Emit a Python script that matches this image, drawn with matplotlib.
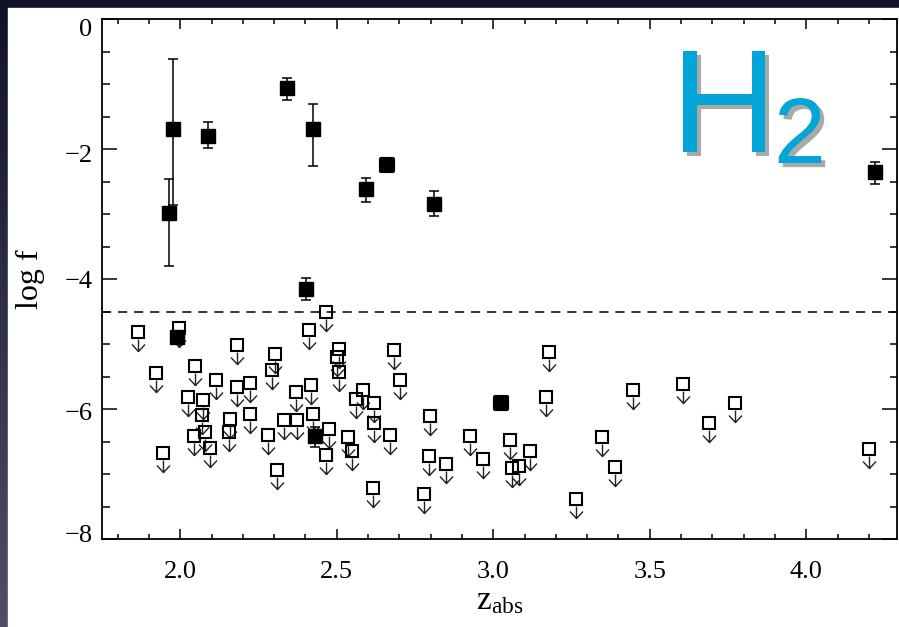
import numpy as np
import matplotlib
matplotlib.use('Agg')
import matplotlib.pyplot as plt
import matplotlib.patheffects as pe
import matplotlib.transforms as mtransforms
from matplotlib.path import Path
from matplotlib.markers import MarkerStyle
from matplotlib.patches import Rectangle

plt.rcParams['font.family'] = 'serif'
plt.rcParams['font.serif'] = ['Liberation Serif', 'DejaVu Serif']
plt.rcParams['mathtext.default'] = 'regular'

# H2 detections (filled squares with error bars)
det_z = [1.963, 1.976, 2.088, 2.340, 2.402, 2.425, 2.595, 2.811, 4.220, 1.991, 2.432]
det_logf = [-2.98, -1.69, -1.80, -1.06, -4.16, -1.69, -2.62, -2.84, -2.36, -4.89, -6.42]
det_err_lo = [0.82, 1.17, 0.18, 0.18, 0.16, 0.57, 0.20, 0.19, 0.18, 0.05, 0.16]
det_err_hi = [0.52, 1.08, 0.21, 0.16, 0.18, 0.38, 0.17, 0.19, 0.16, 0.05, 0.15]

# detections drawn as rounded blobs
blob_z = [2.659, 3.025]
blob_logf = [-2.25, -5.91]

# upper limits (open squares with arrows)
lim_z = [1.866, 1.996, 1.923, 1.945, 2.046, 2.026, 2.072, 2.068, 2.043, 2.078,
         2.094, 2.113, 2.180, 2.182, 2.158, 2.155, 2.224, 2.224, 2.302, 2.294,
         2.280, 2.310, 2.411, 2.370, 2.418, 2.331, 2.373, 2.423, 2.467, 2.476,
         2.465, 2.506, 2.501, 2.506, 2.584, 2.562, 2.618, 2.620, 2.536, 2.550,
         2.616, 2.682, 2.669, 2.701, 2.799, 2.796, 2.850, 2.778, 2.925, 2.966,
         3.055, 3.117, 3.081, 3.061, 3.177, 3.169, 3.265, 3.349, 3.388, 3.446,
         3.605, 3.689, 3.771, 4.200]
lim_logf = [-4.81, -4.76, -5.45, -6.67, -5.34, -5.81, -5.86, -6.09, -6.41, -6.35,
            -6.60, -5.55, -5.66, -5.02, -6.15, -6.36, -5.60, -6.07, -5.16, -5.40,
            -6.40, -6.94, -4.78, -5.74, -5.63, -6.17, -6.17, -6.07, -4.51, -6.31,
            -6.71, -5.08, -5.20, -5.43, -5.71, -5.84, -5.91, -6.21, -6.43, -6.64,
            -7.22, -5.09, -6.40, -5.56, -6.11, -6.73, -6.84, -7.30, -6.41, -6.77,
            -6.47, -6.64, -6.87, -6.91, -5.12, -5.81, -7.39, -6.43, -6.89, -5.71,
            -5.61, -6.21, -5.91, -6.62]

threshold = -4.5

y_ticks = [0, -2, -4, -6, -8]
x_ticks = [2.0, 2.5, 3.0, 3.5, 4.0]

fig = plt.figure(figsize=(8.99, 6.27), dpi=100)

# dark slide background with white panel
bg = fig.add_axes([0, 0, 1, 1], zorder=-10)
grad = np.linspace(0, 1, 256)[:, None] * np.ones((1, 16))
bg.imshow(grad, aspect='auto', cmap=matplotlib.colors.LinearSegmentedColormap.from_list(
    'bg', ['#0f1229', '#4e4f6b']), extent=[0, 1, 0, 1], origin='upper')
bg.add_patch(Rectangle((8 / 899, 0), 1, 619 / 627, color='white', transform=fig.transFigure))
bg.set_axis_off()

ax = fig.add_axes([102 / 899, 88 / 627, 795 / 899, 520 / 627])

# arrow marker (stem + chevron) below the square
arrow = Path([(0, -7), (0, -19), (-6.5, -12), (0, -19), (6.5, -12)],
             [Path.MOVETO, Path.LINETO, Path.MOVETO, Path.LINETO, Path.LINETO])
ax.plot(lim_z, lim_logf, ls='none', marker=arrow, ms=27.4, mfc='none', mec='#222222', mew=1.0, zorder=3)
ax.plot(lim_z, lim_logf, ls='none', marker='s', ms=8.6, mfc='none', mec='black', mew=1.5, zorder=3)

ax.errorbar(det_z, det_logf, yerr=[det_err_lo, det_err_hi], fmt='s', ms=9.5, color='black',
            elinewidth=1.1, capsize=3.6, capthick=1.1, zorder=4)
ax.plot(blob_z, blob_logf, ls='none', marker=MarkerStyle('s', joinstyle='round'), ms=8.5,
        mfc='black', mec='black', mew=3, zorder=4)

ax.axhline(threshold, color='black', lw=1.1, ls=(0, (6, 4.5)), zorder=2)

ax.set_xlim(1.75, 4.29)
ax.set_ylim(-8, 0)
ax.set_xticks(x_ticks)
ax.set_xticks(np.arange(1.8, 4.3, 0.1), minor=True)
ax.set_yticks(y_ticks)
ax.set_yticks(np.arange(-7.5, 0, 0.5), minor=True)
ax.xaxis.set_major_formatter(matplotlib.ticker.FormatStrFormatter('%.1f'))
ax.tick_params(axis='both', which='both', direction='in', top=True, right=True,
               width=1.1, labelsize=19)
ax.tick_params(axis='x', which='major', length=7.2, pad=16)
ax.tick_params(axis='x', which='minor', length=3.6)
ax.tick_params(axis='y', which='major', length=10.8, pad=7)
ax.tick_params(axis='y', which='minor', length=5.4)
for s in ax.spines.values():
    s.set_linewidth(1.3)

# y tick labels sit slightly off their ticks in the original (pixels, + is down)
label_shift = {0: 9, -2: 5, -4: 1, -6: 2, -8: -6}
for val, lab in zip(y_ticks, ax.get_yticklabels()):
    lab.set_transform(lab.get_transform() + mtransforms.ScaledTranslation(
        0, -label_shift[val] / 100, fig.dpi_scale_trans))

ax.set_xlabel('$z_{abs}$', fontsize=24, labelpad=2)
ax.set_ylabel('log f', fontsize=23, labelpad=14)

# H2 label
shadow = [pe.withSimplePatchShadow(offset=(3, -3), shadow_rgbFace=(0.55, 0.55, 0.55), alpha=0.75)]
fig.text(671 / 899, 1 - 152 / 627, 'H', fontsize=106, color='#02a5d8', family='Liberation Sans',
         ha='left', va='baseline', path_effects=shadow)
fig.text(774 / 899, 1 - 163 / 627, '2', fontsize=67, color='#02a5d8', family='Liberation Sans',
         ha='left', va='baseline', path_effects=shadow)

fig.savefig('out.png', dpi=100)
